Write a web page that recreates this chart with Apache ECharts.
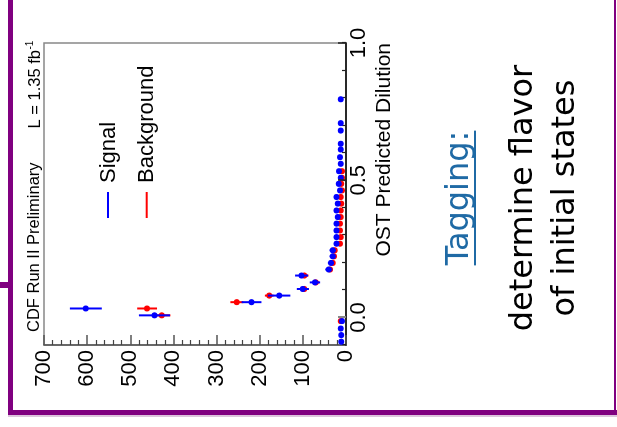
<!DOCTYPE html>
<html><head><meta charset="utf-8">
<script src="https://cdn.jsdelivr.net/npm/echarts@6/dist/echarts.min.js"></script>
<style>
html,body{margin:0;padding:0;background:#fff;width:617px;height:427px;overflow:hidden;position:relative}
#rot{position:absolute;left:0;top:0;width:427px;height:617px;transform-origin:0 0;transform:translate(0,427px) rotate(-90deg);}
#chart{width:427px;height:617px}
.f{position:absolute;background:#800080}
</style></head><body>
<div id="rot"><div id="chart"></div></div>
<div class="f" style="left:8px;top:0;width:5px;height:415px"></div>
<div class="f" style="left:8px;top:410px;width:609px;height:5px"></div>
<div class="f" style="left:614px;top:0;width:2px;height:415px"></div>
<div class="f" style="left:0;top:282px;width:10px;height:6px"></div>
<div style="position:absolute;left:8px;top:415px;width:609px;height:2px;background:#dcc4dc"></div>
<script>
// ---- data ----
const signalDilution = [-0.088, -0.064, -0.040, -0.013, 0.008, 0.033, 0.056, 0.080, 0.104, 0.128, 0.153, 0.175, 0.199, 0.223, 0.245, 0.269, 0.293, 0.317, 0.342, 0.366, 0.390, 0.415, 0.439, 0.463, 0.487, 0.509, 0.533, 0.560, 0.584, 0.612, 0.633, 0.681, 0.708, 0.795];
const signalCounts   = [11, 11, 12, 9, 444, 603, 219, 155, 100, 72, 103, 40, 35, 31, 31, 22, 22, 22, 22, 19, 22, 19, 22, 14, 17, 12, 16, 12, 14, 12, 12, 12, 12, 12];
const signalErrors   = [3, 3, 3, 3, 36, 37, 23, 26, 14, 12, 15, 8, 7, 7, 7, 6, 6, 6, 6, 5, 6, 5, 6, 4, 5, 4, 4, 4, 4, 4, 4, 4, 4, 4];

const backgroundDilution = [-0.013, 0.008, 0.033, 0.056, 0.080, 0.104, 0.128, 0.153, 0.175, 0.199, 0.223, 0.245, 0.269, 0.293, 0.317, 0.342, 0.366, 0.390, 0.415, 0.439, 0.463, 0.487, 0.509, 0.533];
const backgroundCounts   = [12, 427, 461, 253, 178, 97, 70, 97, 37, 31, 28, 26, 14, 12, 14, 14, 12, 12, 11, 12, 9, 11, 9, 9];
const backgroundErrors   = [3, 20, 23, 15, 10, 10, 8, 10, 6, 5, 5, 5, 4, 4, 4, 4, 4, 4, 4, 4, 3, 4, 3, 3];

const dilutionLabels = ['0.0', '0.5', '1.0'];
const countTicks = [0, 100, 200, 300, 400, 500, 600, 700];

const FONT = "'Liberation Sans', Arial, sans-serif";
const SLIDE_FONT = "'DejaVu Sans', Verdana, sans-serif";

function errSeries(name, color, xs, ys, es) {
  return {
    name: name, type: 'custom', clip: true,
    data: xs.map((x, i) => [x, ys[i], es[i]]),
    renderItem: function (params, api) {
      const x = api.value(0), y = api.value(1), e = api.value(2);
      const a = api.coord([x, y - e]), b = api.coord([x, y + e]);
      const c = api.coord([x - 0.009, y]), d = api.coord([x + 0.009, y]);
      const p = api.coord([x, y]);
      return { type: 'group', children: [
        { type: 'line', shape: { x1: a[0], y1: a[1], x2: b[0], y2: b[1] }, style: { stroke: color, lineWidth: 2 } },
        { type: 'line', shape: { x1: c[0], y1: c[1], x2: d[0], y2: d[1] }, style: { stroke: color, lineWidth: 2 } },
        { type: 'circle', shape: { cx: p[0], cy: p[1], r: 3 }, style: { fill: color } }
      ]};
    }
  };
}

// measure underline width
const cv = document.createElement('canvas').getContext('2d');
cv.font = "32px " + SLIDE_FONT;
const tagW = cv.measureText('Tagging:').width;
const tagC = 229;

const chart = echarts.init(document.getElementById('chart'), null, { width: 427, height: 617, renderer: 'canvas' });
const bgSeries = errSeries('Background', '#ff0000', backgroundDilution, backgroundCounts, backgroundErrors);
bgSeries.markLine = {
  silent: true, symbol: 'none', animation: false, label: { show: false },
  lineStyle: { color: '#222', width: 1.5, type: 'solid' },
  data: [0, 0.5, 1.0].map(v => [{ coord: [v, 0], lineStyle: { color: v === 0 ? '#888' : '#222', width: v === 0 ? 2 : 1.5, type: 'solid' } }, { coord: [v, 18.5] }])
};
chart.setOption({
  animation: false,
  backgroundColor: '#fff',
  grid: { left: 82, right: 43, top: 44, bottom: 271, show: true, borderColor: '#888', borderWidth: 1.5, containLabel: false, outerBoundsMode: 'none' },
  xAxis: {
    type: 'value', min: -0.1, max: 1.0, interval: 0.1,
    axisLine: { show: true, onZero: false, lineStyle: { color: '#000', width: 1.5 } },
    axisTick: { show: true, inside: true, length: 4, lineStyle: { color: '#222', width: 1.2 } },
    splitLine: { show: false },
    axisLabel: {
      margin: 2, fontFamily: FONT, fontSize: 22, color: '#000', showMinLabel: true, showMaxLabel: true,
      formatter: function (v) {
        const idx = [0, 0.5, 1.0].findIndex(t => Math.abs(v - t) < 1e-6);
        return idx >= 0 ? dilutionLabels[idx] : '';
      }
    }
  },
  yAxis: {
    type: 'value', min: countTicks[0], max: countTicks[countTicks.length - 1], interval: 100,
    axisLine: { show: true, onZero: false, lineStyle: { color: '#555', width: 1.5 } },
    axisTick: { show: true, inside: true, length: 10, lineStyle: { color: '#555', width: 1.5 } },
    minorTick: { show: true, splitNumber: 5, length: 5, lineStyle: { color: '#444', width: 1.2 } },
    splitLine: { show: false },
    axisLabel: { margin: 5, fontFamily: FONT, fontSize: 22, color: '#000' }
  },
  series: [
    bgSeries,
    errSeries('Signal', '#0000ff', signalDilution, signalCounts, signalErrors)
  ],
  graphic: [
    { type: 'text', x: 384, y: 384, style: { text: 'OST Predicted Dilution', font: '21px ' + FONT, fill: '#000', align: 'right', verticalAlign: 'middle' } },
    { type: 'text', x: 95, y: 34, style: { text: 'CDF Run II Preliminary', font: '16.5px ' + FONT, fill: '#000', align: 'left', verticalAlign: 'middle' } },
    { type: 'text', x: 377, y: 35, style: { text: 'L = 1.35 fb', font: '16.5px ' + FONT, fill: '#000', align: 'right', verticalAlign: 'middle' } },
    { type: 'text', x: 377.5, y: 30.5, style: { text: '-1', font: '10px ' + FONT, fill: '#000', align: 'left', verticalAlign: 'middle' } },
    { type: 'line', shape: { x1: 209, y1: 108, x2: 235, y2: 108 }, style: { stroke: '#0000ff', lineWidth: 2 } },
    { type: 'text', x: 244, y: 108.5, style: { text: 'Signal', font: '22px ' + FONT, fill: '#000', align: 'left', verticalAlign: 'middle' } },
    { type: 'line', shape: { x1: 209, y1: 146.7, x2: 235, y2: 146.7 }, style: { stroke: '#ff0000', lineWidth: 2 } },
    { type: 'text', x: 244, y: 146.5, style: { text: 'Background', font: '22px ' + FONT, fill: '#000', align: 'left', verticalAlign: 'middle' } },
    { type: 'text', x: tagC, y: 459.5, style: { text: 'Tagging:', font: '32px ' + SLIDE_FONT, fill: '#1f6aa5', align: 'center', verticalAlign: 'middle' } },
    { type: 'line', shape: { x1: tagC - tagW / 2, y1: 475, x2: tagC + tagW / 2, y2: 475 }, style: { stroke: '#1f6aa5', lineWidth: 2 } },
    { type: 'text', x: tagC, y: 524, style: { text: 'determine flavor', font: '32px ' + SLIDE_FONT, fill: '#000', align: 'center', verticalAlign: 'middle' } },
    { type: 'text', x: tagC, y: 566, style: { text: 'of initial states', font: '32px ' + SLIDE_FONT, fill: '#000', align: 'center', verticalAlign: 'middle' } }
  ]
});
</script>
</body></html>
